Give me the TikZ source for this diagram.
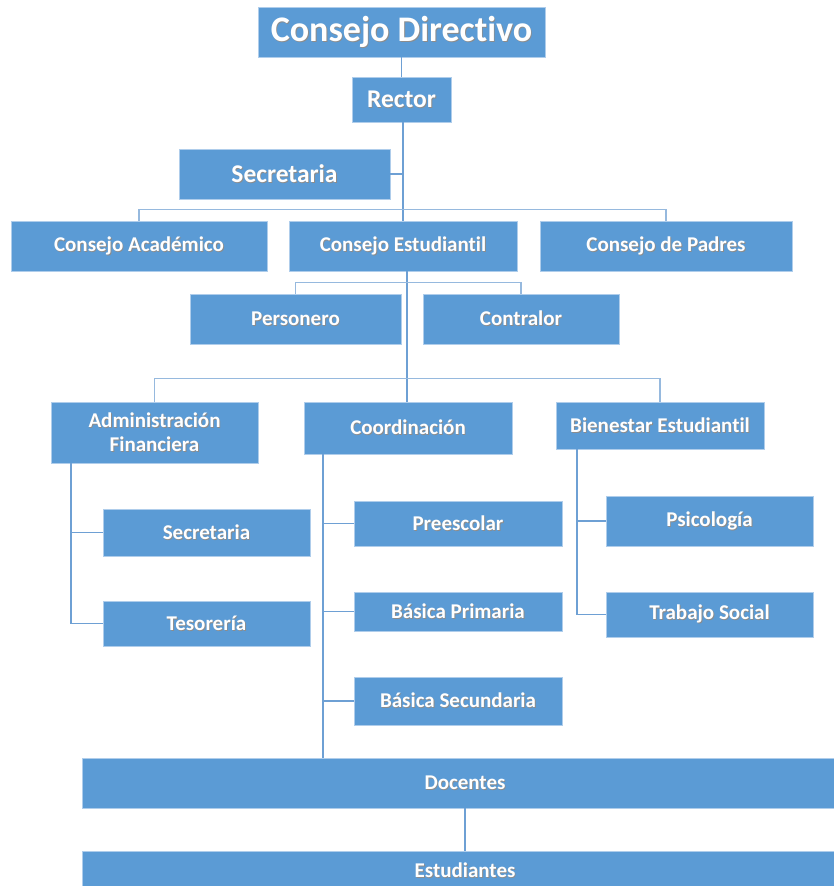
\documentclass[tikz,border=0pt]{standalone}
\usepackage{fontspec}
\setmainfont{Carlito}[Ligatures=NoCommon]
\definecolor{boxblue}{RGB}{91,155,213}
\definecolor{boxedge}{RGB}{175,205,235}
\definecolor{linec}{RGB}{110,160,212}
\definecolor{barc}{RGB}{150,185,222}
\newcommand\shtxt[1]{\leavevmode\rlap{\kern0.9pt\raisebox{-0.9pt}{\textcolor{black!45}{#1}}}#1}
\begin{document}
\begin{tikzpicture}[x=1pt,y=-1pt,
  box/.style={fill=boxblue, draw=boxedge, line width=0.8pt, text=white,
    font=\bfseries\fontsize{21}{24}\selectfont, inner sep=0pt, align=center},
  conn/.style={draw=linec, line width=1.1pt},
  bar/.style={draw=barc, line width=1.6pt}]
\useasboundingbox (0,0) rectangle (833,886);
% nodes
\node[box, minimum width=287, minimum height=50, font=\bfseries\fontsize{36}{40}\selectfont] (cd) at (401.5,32) {\shtxt{Consejo Directivo}};
\node[box, minimum width=99, minimum height=45, font=\bfseries\fontsize{25.5}{28}\selectfont] (rector) at (401.5,99.5) {\shtxt{Rector}};
\node[box, minimum width=211, minimum height=50, font=\bfseries\fontsize{25.5}{28}\selectfont] (sec1) at (284.5,174) {\shtxt{Secretaria}};
\node[box, minimum width=256, minimum height=50] (cacad) at (139,246) {\shtxt{Consejo Académico}};
\node[box, minimum width=228, minimum height=50] (cest) at (403,246) {\shtxt{Consejo Estudiantil}};
\node[box, minimum width=252, minimum height=50] (cpad) at (666,246) {\shtxt{Consejo de Padres}};
\node[box, minimum width=211, minimum height=50] (pers) at (295.5,319) {\shtxt{Personero}};
\node[box, minimum width=196, minimum height=50] (contr) at (521,319) {\shtxt{Contralor}};
\node[box, minimum width=207, minimum height=61] (adm) at (154.5,432.5) {\shtxt{Administración}\\\shtxt{Financiera}};
\node[box, minimum width=208, minimum height=52] (coord) at (408,428) {\shtxt{Coordinación}};
\node[box, minimum width=208, minimum height=47] (bien) at (660,425.5) {\shtxt{Bienestar Estudiantil}};
\node[box, minimum width=207, minimum height=47] (sec2) at (206.5,532.5) {\shtxt{Secretaria}};
\node[box, minimum width=207, minimum height=45] (teso) at (206.5,623.5) {\shtxt{Tesorería}};
\node[box, minimum width=208, minimum height=45] (pre) at (458,523.5) {\shtxt{Preescolar}};
\node[box, minimum width=208, minimum height=39] (bprim) at (458,611.5) {\shtxt{Básica Primaria}};
\node[box, minimum width=208, minimum height=48] (bsec) at (458,701) {\shtxt{Básica Secundaria}};
\node[box, minimum width=207, minimum height=50] (psi) at (709.5,521) {\shtxt{Psicología}};
\node[box, minimum width=207, minimum height=45] (trab) at (709.5,614.5) {\shtxt{Trabajo Social}};
\node[box, minimum width=766, minimum height=50] (doc) at (465,783) {\shtxt{Docentes}};
\node[box, minimum width=766, minimum height=40] (est) at (465,871) {\shtxt{Estudiantes}};
% connectors
\draw[conn] (cd.south) -- (cd.south |- rector.north);
\draw[conn] (rector.south -| cest.north) -- (cest.north);
\draw[conn] (sec1.east) -- (sec1.east -| cest.north);
\draw[bar] (cacad.north) -- ++(0,-11) -| (cpad.north);
\coordinate (cestdrop) at ([xshift=4pt]cest.south);
\draw[conn] (cestdrop) -- (cestdrop |- coord.north);
\draw[bar] (pers.north) -- ++(0,-11) -| (contr.north);
\draw[bar] (adm.north) -- ++(0,-23) -| (bien.north);
% admin branch
\coordinate (aline) at ([xshift=-83.5pt]adm.south);
\draw[conn] (aline) |- (teso.west);
\draw[conn] (aline |- sec2.west) -- (sec2.west);
% coordination branch
\coordinate (cline) at ([xshift=-85pt]coord.south);
\draw[conn] (cline) -- (cline |- doc.north);
\draw[conn] (cline |- pre.west) -- (pre.west);
\draw[conn] (cline |- bprim.west) -- (bprim.west);
\draw[conn] (cline |- bsec.west) -- (bsec.west);
% bienestar branch
\coordinate (bline) at ([xshift=-83pt]bien.south);
\draw[conn] (bline) |- (trab.west);
\draw[conn] (bline |- psi.west) -- (psi.west);
% docentes
\draw[conn] (doc.south) -- (est.north);
\end{tikzpicture}
\end{document}
